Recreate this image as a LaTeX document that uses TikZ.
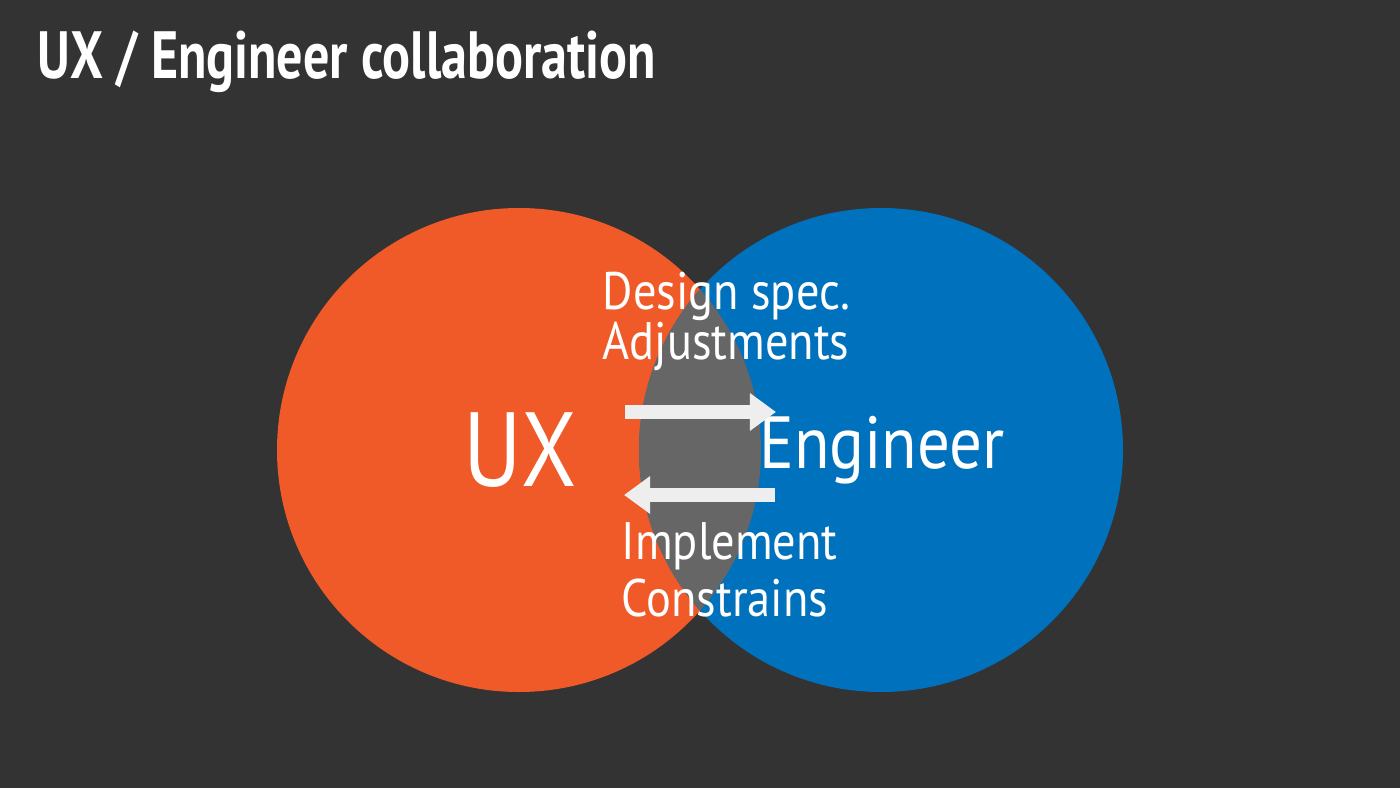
\documentclass[tikz,border=0pt]{standalone}
\usepackage{fontspec}
\setmainfont{PT Sans}
\usetikzlibrary{arrows.meta}
\definecolor{bg}{HTML}{333333}
\definecolor{uxorange}{HTML}{F05A28}
\definecolor{engblue}{HTML}{0071BC}
\definecolor{overlap}{HTML}{666666}
\definecolor{arrowgray}{HTML}{EEEEEE}
\begin{document}
\begin{tikzpicture}[x=0.01cm,y=-0.01cm,
    label/.style={text=white,font=\fontsize{15}{18}\selectfont,anchor=west,inner sep=0pt},
    flow/.style={arrowgray,line width=3.7pt,-{Triangle[length=0.26cm,width=0.36cm]}}]
      \fill[bg] (0,0) rectangle (1400,788);
      \node[text=white,anchor=west,inner sep=0pt] (title) at (37,62)
        {\scalebox{0.78}[1]{\fontsize{19}{22}\selectfont\bfseries UX / Engineer collaboration}};

      \fill[uxorange] (519,450) circle (242);
      \fill[engblue] (881,450) circle (242);
      \begin{scope}
        \clip (519,450) circle (242);
        \fill[overlap] (881,450) circle (242);
      \end{scope}

      \node[text=white,font=\fontsize{30}{34}\selectfont] (ux) at (520,450) {\scalebox{0.85}[1]{UX}};
      \node[text=white,font=\fontsize{21}{24}\selectfont] (eng) at (882,450) {\scalebox{0.88}[1]{Engineer}};

      \node[label] (spec) at (602,296) {\scalebox{0.88}[1]{Design spec.}};
      \node[label] (adj) at (602,346) {\scalebox{0.88}[1]{Adjustments}};
      \node[label] (impl) at (621,546) {\scalebox{0.88}[1]{Implement}};
      \node[label] (cons) at (621,598) {\scalebox{0.88}[1]{Constrains}};

      \coordinate (a1) at (625,412);
      \coordinate (b1) at (776,412);
      \coordinate (a2) at (775,495);
      \coordinate (b2) at (624,495);
      \draw[flow] (a1) -- (b1);
      \draw[flow] (a2) -- (b2);
    \end{tikzpicture}
\end{document}
